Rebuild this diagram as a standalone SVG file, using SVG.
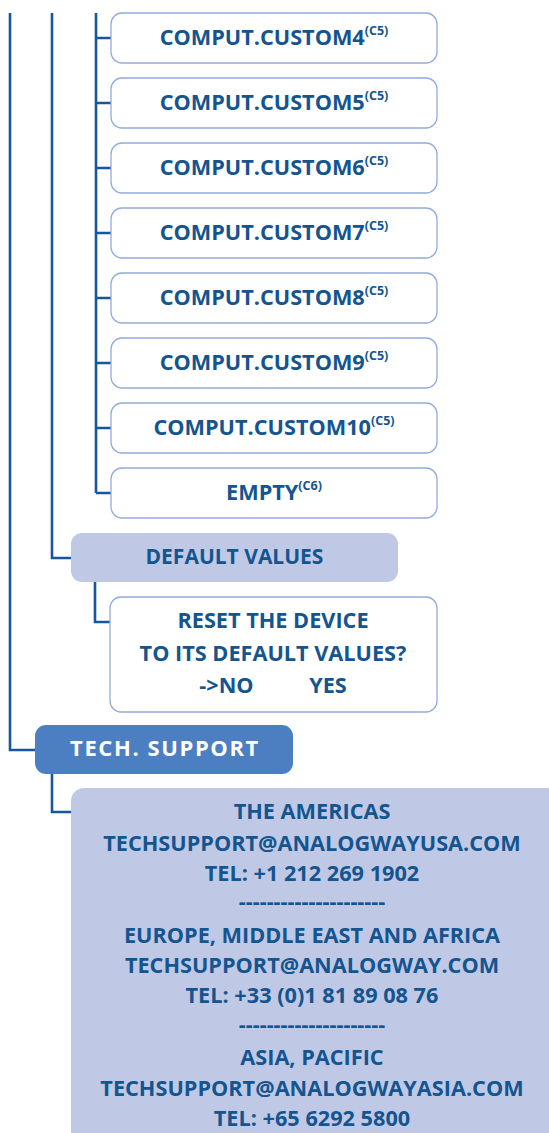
<svg xmlns="http://www.w3.org/2000/svg" width="549" height="1133" viewBox="0 0 549 1133">
<style>
text{font-family:"Open Sans","DejaVu Sans",sans-serif;font-weight:bold;fill:#14548F;text-anchor:middle;font-size:21.7px}
.sup{font-size:12.5px}
.box{fill:#fff;stroke:#92ACDC;stroke-width:1.3}
.lite{fill:#BFC9E6}
.dark{fill:#4C7FC2}
.w{fill:#fff;font-size:22px;letter-spacing:1.6px}
.dv{font-size:21px}
.conn path{fill:none;stroke:#16569C;stroke-width:2.6}
</style>
<rect width="549" height="1133" fill="#fff"/>
<g class="conn">
<path d="M10 13V750H35"/>
<path d="M52 13V558H71"/>
<path d="M96 13V493"/>
<path d="M96 38H111M96 103H111M96 168H111M96 233H111M96 298H111M96 363H111M96 428H111M96 493H111"/>
<path d="M95 582V622H110"/>
<path d="M52 774V812H71"/>
</g>
<g id="n4"><rect class="box" x="111" y="13" width="326" height="50" rx="11"/><text x="274" y="45">COMPUT.CUSTOM4<tspan class="sup" dy="-10.5">(C5)</tspan></text></g>
<g id="n5"><rect class="box" x="111" y="78" width="326" height="50" rx="11"/><text x="274" y="110">COMPUT.CUSTOM5<tspan class="sup" dy="-10.5">(C5)</tspan></text></g>
<g id="n6"><rect class="box" x="111" y="143" width="326" height="50" rx="11"/><text x="274" y="175">COMPUT.CUSTOM6<tspan class="sup" dy="-10.5">(C5)</tspan></text></g>
<g id="n7"><rect class="box" x="111" y="208" width="326" height="50" rx="11"/><text x="274" y="240">COMPUT.CUSTOM7<tspan class="sup" dy="-10.5">(C5)</tspan></text></g>
<g id="n8"><rect class="box" x="111" y="273" width="326" height="50" rx="11"/><text x="274" y="305">COMPUT.CUSTOM8<tspan class="sup" dy="-10.5">(C5)</tspan></text></g>
<g id="n9"><rect class="box" x="111" y="338" width="326" height="50" rx="11"/><text x="274" y="370">COMPUT.CUSTOM9<tspan class="sup" dy="-10.5">(C5)</tspan></text></g>
<g id="n10"><rect class="box" x="111" y="403" width="326" height="50" rx="11"/><text x="274" y="435">COMPUT.CUSTOM10<tspan class="sup" dy="-10.5">(C5)</tspan></text></g>
<g id="empty"><rect class="box" x="111" y="468" width="326" height="50" rx="11"/><text x="274" y="500">EMPTY<tspan class="sup" dy="-10.5">(C6)</tspan></text></g>
<g id="default"><rect class="lite" x="71" y="533" width="327" height="49" rx="11"/><text class="dv" x="234.5" y="564">DEFAULT VALUES</text></g>
<g id="reset"><rect class="box" x="110" y="597" width="327" height="115" rx="11"/>
<text x="273" y="628">RESET THE DEVICE</text>
<text x="273" y="661">TO ITS DEFAULT VALUES?</text>
<text x="226.5" y="693">-&gt;NO</text>
<text x="328" y="693">YES</text></g>
<g id="tech"><rect class="dark" x="35" y="725" width="258" height="49" rx="11"/><text class="w" x="165" y="756">TECH. SUPPORT</text></g>
<g id="info"><rect class="lite" x="71" y="788" width="490" height="360" rx="13"/>
<text x="312" y="819">THE AMERICAS</text>
<text x="312" y="851">TECHSUPPORT@ANALOGWAYUSA.COM</text>
<text x="312" y="881">TEL: +1 212 269 1902</text>
<text x="312" y="909">---------------------</text>
<text x="312" y="943">EUROPE, MIDDLE EAST AND AFRICA</text>
<text x="312" y="973">TECHSUPPORT@ANALOGWAY.COM</text>
<text x="312" y="1003">TEL: +33 (0)1 81 89 08 76</text>
<text x="312" y="1032">---------------------</text>
<text x="312" y="1065">ASIA, PACIFIC</text>
<text x="312" y="1096">TECHSUPPORT@ANALOGWAYASIA.COM</text>
<text x="312" y="1126">TEL: +65 6292 5800</text></g>
</svg>
